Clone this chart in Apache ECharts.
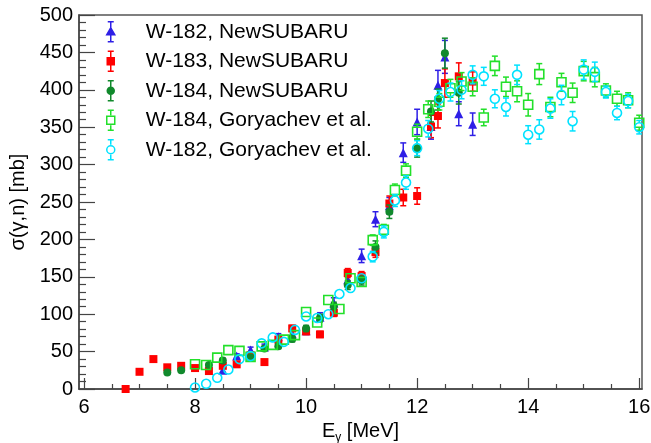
<!DOCTYPE html>
<html><head><meta charset="utf-8">
<script src="https://cdn.jsdelivr.net/npm/echarts@6/dist/echarts.min.js"></script>
<style>html,body{margin:0;padding:0;background:#fff}#c{width:651px;height:443px}</style>
</head><body><div id="c"></div>
<script>
// ---- data ----
const xTickLabels = [6, 8, 10, 12, 14, 16];
const xMinorTicks = [6.5, 7, 7.5, 8.5, 9, 9.5, 10.5, 11, 11.5, 12.5, 13, 13.5, 14.5, 15, 15.5];

const w182nsE   = [8.5, 8.75, 9.0, 9.25, 9.5, 9.75, 10.0, 10.25, 10.5, 10.75, 11.0, 11.25, 11.5, 11.75, 12.0, 12.25, 12.375, 12.5, 12.75, 13.0];
const w182nsY   = [25, 44, 52, 56, 70, 74, 78, 96, 115, 146, 178, 227, 245, 316, 357, 351, 406, 444, 368, 354];
const w182nsErr = [3, 3, 4, 4, 4, 4, 5, 6, 7, 8, 9, 10, 11, 13, 17, 17, 20, 22, 16, 15];

const w183nsE   = [6.75, 7.0, 7.25, 7.5, 7.75, 8.0, 8.25, 8.5, 8.75, 9.0, 9.25, 9.5, 9.75, 10.0, 10.25, 10.5, 10.75, 11.0, 11.25, 11.5, 11.75, 12.0, 12.25, 12.375, 12.5, 12.75, 13.0];
const w183nsY   = [0, 23, 40, 29, 31, 28, 24, 31, 33, 45, 36, 66, 81, 77, 73, 102, 155, 151, 183, 248, 256, 258, 351, 365, 409, 418, 411];
const w183nsErr = [2, 2, 2, 2, 2, 2, 2, 3, 3, 3, 3, 4, 4, 4, 4, 5, 6, 6, 7, 10, 11, 11, 15, 16, 19, 18, 13];

const w184nsE   = [7.5, 7.75, 8.25, 8.5, 9.0, 9.25, 9.5, 9.75, 10.0, 10.25, 10.5, 10.75, 11.0, 11.25, 11.5, 12.0, 12.25, 12.375, 12.5, 12.75];
const w184nsY   = [22, 25, 32, 38, 42, 54, 57, 67, 81, 95, 111, 139, 145, 190, 237, 322, 371, 387, 449, 396];
const w184nsErr = [2, 2, 2, 3, 3, 3, 3, 4, 4, 5, 5, 6, 6, 8, 9, 12, 14, 14, 20, 15];

const gorE = [8.0, 8.2, 8.4, 8.6, 8.8, 9.0, 9.2, 9.4, 9.6, 9.8, 10.0, 10.2, 10.4, 10.6, 10.8, 11.0, 11.2, 11.4, 11.6, 11.8, 12.0, 12.2, 12.4, 12.6, 12.8, 13.0, 13.2, 13.4, 13.6, 13.8, 14.0, 14.2, 14.4, 14.6, 14.8, 15.0, 15.2, 15.4, 15.6, 15.8, 16.0];
const w184gorY   = [33, 32, 42, 52, 51, 43, 57, 59, 66, 72, 103, 89, 119, 107, 148, 143, 199, 213, 266, 292, 344, 374, 384, 402, 411, 404, 363, 432, 404, 398, 380, 421, 377, 410, 396, 425, 417, 399, 388, 386, 356];
const w184gorErr = [4, 4, 4, 4, 4, 4, 4, 4, 4, 4, 5, 5, 5, 5, 6, 6, 7, 7, 8, 9, 10, 11, 11, 12, 12, 12, 11, 13, 13, 14, 15, 14, 13, 12, 13, 13, 13, 9, 10, 10, 10];
const w182gorY   = [2, 7, 15, 26, 40, 44, 61, 69, 63, 79, 97, 95, 100, 127, 135, 148, 177, 210, 252, 276, 322, 348, 388, 397, 400, 420, 418, 388, 377, 420, 340, 347, 375, 393, 358, 427, 424, 397, 369, 385, 350];
const w182gorErr = [3, 3, 3, 3, 3, 4, 4, 4, 4, 4, 5, 5, 5, 5, 6, 6, 7, 8, 8, 9, 10, 11, 11, 12, 12, 12, 12, 12, 12, 13, 12, 13, 13, 13, 13, 13, 13, 8, 9, 9, 9];

const names = ['W-182, NewSUBARU', 'W-183, NewSUBARU', 'W-184, NewSUBARU', 'W-184, Goryachev et al.', 'W-182, Goryachev et al.'];
const colors = ['#2e1fe6', '#ff0000', '#11892c', '#22e02a', '#00e2ff'];

// ---- helpers ----
const FONT = '"Liberation Sans", Arial, Helvetica, sans-serif';

function errSeries(i, xs, ys, es, gap) {
  const color = colors[i];
  return {
    type: 'custom', name: names[i] + ' err', z: 2 + i * 2, clip: true, silent: true,
    data: xs.map((x, k) => [x, ys[k] - es[k], ys[k] + es[k], ys[k]]),
    encode: { x: 0, y: [1, 2] },
    renderItem(params, api) {
      const x = api.value(0);
      const lo = api.coord([x, api.value(1)]);
      const hi = api.coord([x, api.value(2)]);
      const mid = api.coord([x, api.value(3)]);
      const cx = mid[0], cw = 3;
      const st = { stroke: color, lineWidth: 1.5 };
      const ch = [];
      if (hi[1] < mid[1] - gap) {
        ch.push({ type: 'line', shape: { x1: cx, y1: hi[1], x2: cx, y2: mid[1] - gap }, style: st });
        ch.push({ type: 'line', shape: { x1: cx - cw, y1: hi[1], x2: cx + cw, y2: hi[1] }, style: st });
      }
      if (lo[1] > mid[1] + gap) {
        ch.push({ type: 'line', shape: { x1: cx, y1: mid[1] + gap, x2: cx, y2: lo[1] }, style: st });
        ch.push({ type: 'line', shape: { x1: cx - cw, y1: lo[1], x2: cx + cw, y2: lo[1] }, style: st });
      }
      return { type: 'group', children: ch };
    }
  };
}

function ptSeries(i, xs, ys, symbol, size, hollow) {
  return {
    type: 'scatter', name: names[i], z: 3 + i * 2, symbol, symbolSize: size,
    data: xs.map((x, k) => [x, ys[k]]),
    itemStyle: hollow
      ? { color: 'rgba(255,255,255,0)', borderColor: colors[i], borderWidth: 1.6, opacity: 1 }
      : { color: colors[i], opacity: 1 },
    emphasis: { disabled: true }
  };
}

const bar = 'M7,0 L13,0 M10,0 L10,5 M10,15 L10,20 M7,20 L13,20 ';
const icons = [
  'path://' + 'M7,0 L13,0 M10,0 L10,20 M7,20 L13,20 M10,6 L14,13 L6,13 Z',
  'path://' + 'M7,0 L13,0 M10,0 L10,20 M7,20 L13,20 M6.5,6.5 L13.5,6.5 L13.5,13.5 L6.5,13.5 Z',
  'path://' + 'M7,0 L13,0 M10,0 L10,20 M7,20 L13,20 M13.5,10 A3.5,3.5 0 1,1 6.5,10 A3.5,3.5 0 1,1 13.5,10 Z',
  'path://' + bar + 'M6,6 L14,6 L14,14 L6,14 Z',
  'path://' + bar + 'M14,10 A4,4 0 1,1 6,10 A4,4 0 1,1 14,10 Z'
];
const hollowLegend = [false, false, false, true, true];

const chart = echarts.init(document.getElementById('c'));
chart.setOption({
  animation: false,
  backgroundColor: '#fff',
  textStyle: { fontFamily: FONT },
  grid: { left: 79, right: 9, top: 15, bottom: 54, show: true, borderColor: '#555', borderWidth: 1.5,
          backgroundColor: 'rgba(0,0,0,0)', containLabel: false, outerBoundsMode: 'none' },
  legend: {
    orient: 'vertical', left: 101, top: 16, itemWidth: 60, itemHeight: 20, itemGap: 8,
    selectedMode: false,
    textStyle: { fontSize: 21, fontFamily: FONT, color: '#000', lineHeight: 20 },
    data: names.map((n, i) => ({
      name: n, icon: icons[i],
      itemStyle: { color: hollowLegend[i] ? 'rgba(255,255,255,0)' : colors[i], borderColor: colors[i], borderWidth: 1.5 }
    }))
  },
  xAxis: [{
    type: 'value', min: 5.91, max: 16.05, position: 'bottom',
    axisLine: { show: true, onZero: false, lineStyle: { color: '#444', width: 1.5 } },
    axisTick: { show: true, inside: true, length: 11, customValues: xTickLabels, lineStyle: { color: '#444', width: 1.2 } },
    axisLabel: { customValues: xTickLabels, fontSize: 20, color: '#000', margin: 8, fontFamily: FONT },
    splitLine: { show: false },
    name: '{a|E}{b|γ}{a| [MeV]}', nameLocation: 'middle', nameGap: 30,
    nameTextStyle: {
      color: '#000',
      rich: {
        a: { fontSize: 20, fontFamily: FONT, color: '#000', lineHeight: 24, verticalAlign: 'middle' },
        b: { fontSize: 12, fontFamily: FONT, color: '#000', lineHeight: 12, verticalAlign: 'bottom' }
      }
    }
  }, {
    type: 'value', min: 5.91, max: 16.05, position: 'bottom',
    axisLine: { show: false, onZero: false },
    axisTick: { show: true, inside: true, length: 5, customValues: xMinorTicks, lineStyle: { color: '#444', width: 1.2 } },
    axisLabel: { show: false },
    splitLine: { show: false }
  }],
  yAxis: {
    type: 'value', min: 0, max: 500, interval: 50,
    axisLine: { show: true, onZero: false, lineStyle: { color: '#444', width: 1.5 } },
    axisTick: { show: true, inside: true, length: 16, lineStyle: { color: '#444', width: 1.2 } },
    minorTick: { show: true, splitNumber: 5, length: 7, lineStyle: { color: '#444', width: 1.2 } },
    axisLabel: { fontSize: 20, color: '#000', margin: 6, fontFamily: FONT },
    splitLine: { show: false },
    name: 'σ(γ,n) [mb]', nameLocation: 'middle', nameGap: 41,
    nameTextStyle: { fontSize: 20, color: '#000', fontFamily: FONT }
  },
  series: [
    errSeries(0, w182nsE, w182nsY, w182nsErr, 0),
    ptSeries(0, w182nsE, w182nsY, 'triangle', 9, false),
    errSeries(1, w183nsE, w183nsY, w183nsErr, 0),
    ptSeries(1, w183nsE, w183nsY, 'rect', 8, false),
    errSeries(2, w184nsE, w184nsY, w184nsErr, 0),
    ptSeries(2, w184nsE, w184nsY, 'circle', 8, false),
    errSeries(3, gorE, w184gorY, w184gorErr, 4.5),
    ptSeries(3, gorE, w184gorY, 'rect', 9, true),
    errSeries(4, gorE, w182gorY, w182gorErr, 4.5),
    ptSeries(4, gorE, w182gorY, 'circle', 9, true)
  ]
});
</script>
</body></html>
